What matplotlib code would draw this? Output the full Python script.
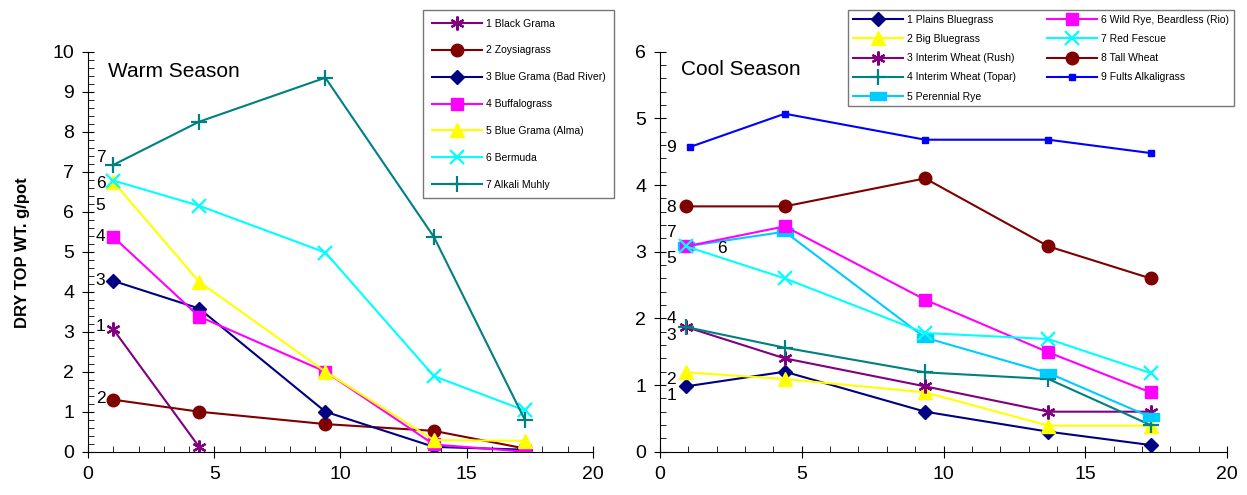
import matplotlib
matplotlib.use('Agg')

import matplotlib.pyplot as plt
from matplotlib.path import Path
from matplotlib.ticker import MultipleLocator

plt.rcParams['font.family'] = ['Liberation Sans', 'DejaVu Sans']

# warm season data
x_warm = [1, 4.4, 9.4, 13.7, 17.3]
black_grama = [3.06, 0.12]
zoysiagrass = [1.3, 1.0, 0.69, 0.52, 0.08]
blue_grama_bad_river = [4.27, 3.58, 1.0, 0.12, 0.05]
buffalograss = [5.37, 3.38, 2.0, 0.18, 0.0]
blue_grama_alma = [6.75, 4.25, 2.0, 0.29, 0.27]
bermuda = [6.78, 6.15, 4.98, 1.89, 1.03]
alkali_muhly = [7.17, 8.25, 9.35, 5.37, 0.8]

# cool season data
x_cool = [0.92, 4.4, 9.35, 13.7, 17.3]
x_fults = [1.05, 4.4, 9.35, 13.7, 17.3]
plains_bluegrass = [0.98, 1.2, 0.6, 0.3, 0.1]
big_bluegrass = [1.19, 1.09, 0.89, 0.39, 0.39]
interim_rush = [1.87, 1.4, 0.98, 0.6, 0.6]
interim_topar = [1.87, 1.56, 1.19, 1.09, 0.4]
perennial_rye = [3.08, 3.3, 1.71, 1.18, 0.52]
wild_rye = [3.08, 3.38, 2.28, 1.49, 0.89]
red_fescue = [3.08, 2.6, 1.78, 1.69, 1.18]
tall_wheat = [3.68, 3.68, 4.1, 3.08, 2.6]
fults = [4.57, 5.07, 4.68, 4.68, 4.48]

warm_labels = ['7', '6', '5', '4', '3', '1', '2']
warm_label_y = [7.35, 6.7, 6.16, 5.39, 4.29, 3.14, 1.32]
cool_labels = ['9', '8', '7', '5', '4', '3', '2', '1']
cool_label_y = [4.57, 3.67, 3.29, 2.9, 2.0, 1.74, 1.08, 0.84]

PURPLE = '#800080'
DARKRED = '#800000'
NAVY = '#000080'
MAGENTA = '#FF00FF'
YELLOW = '#FFFF00'
CYAN = '#00FFFF'
TEAL = '#008080'
SKY = '#00CCFF'
BLUE = '#0000FF'

ast = (6, 2, 0)
rect = Path([(-1, -0.5), (1, -0.5), (1, 0.5), (-1, 0.5), (-1, -0.5)],
            [Path.MOVETO, Path.LINETO, Path.LINETO, Path.LINETO, Path.CLOSEPOLY])

fig = plt.figure(figsize=(12.47, 4.95), dpi=100)
ax1 = fig.add_axes([0.0706, 0.0875, 0.4049, 0.808])
ax2 = fig.add_axes([0.5293, 0.0875, 0.4547, 0.808])

lw = 1.5
ax1.plot(x_warm[:2], black_grama, color=PURPLE, marker=ast, ms=10, mew=1.6, lw=lw, label='1 Black Grama')
ax1.plot(x_warm, zoysiagrass, color=DARKRED, marker='o', ms=9, lw=lw, label='2 Zoysiagrass')
ax1.plot(x_warm, blue_grama_bad_river, color=NAVY, marker='D', ms=7, lw=lw, label='3 Blue Grama (Bad River)')
ax1.plot(x_warm, buffalograss, color=MAGENTA, marker='s', ms=9, lw=lw, label='4 Buffalograss')
ax1.plot(x_warm, blue_grama_alma, color=YELLOW, marker='^', ms=10, lw=lw, label='5 Blue Grama (Alma)')
ax1.plot(x_warm, bermuda, color=CYAN, marker='x', ms=10, mew=1.6, lw=lw, label='6 Bermuda')
ax1.plot(x_warm, alkali_muhly, color=TEAL, marker='+', ms=11, mew=1.6, lw=lw, label='7 Alkali Muhly')

ax2.plot(x_cool, plains_bluegrass, color=NAVY, marker='D', ms=7, lw=lw, label='1 Plains Bluegrass')
ax2.plot(x_cool, big_bluegrass, color=YELLOW, marker='^', ms=10, lw=lw, label='2 Big Bluegrass')
ax2.plot(x_cool, interim_rush, color=PURPLE, marker=ast, ms=10, mew=1.6, lw=lw, label='3 Interim Wheat (Rush)')
ax2.plot(x_cool, interim_topar, color=TEAL, marker='+', ms=11, mew=1.6, lw=lw, label='4 Interim Wheat (Topar)')
ax2.plot(x_cool, perennial_rye, color=SKY, marker=rect, ms=11, lw=lw, label='5 Perennial Rye')
ax2.plot(x_cool, wild_rye, color=MAGENTA, marker='s', ms=9, lw=lw, label='6 Wild Rye, Beardless (Rio)')
ax2.plot(x_cool, red_fescue, color=CYAN, marker='x', ms=10, mew=1.6, lw=lw, label='7 Red Fescue')
ax2.plot(x_cool, tall_wheat, color=DARKRED, marker='o', ms=9, lw=lw, label='8 Tall Wheat')
ax2.plot(x_fults, fults, color=BLUE, marker='s', ms=5, lw=lw, label='9 Fults Alkaligrass')

for lab, yv in zip(warm_labels, warm_label_y):
    ax1.text(0.5, yv, lab, fontsize=12.5, ha='center', va='center')
for lab, yv in zip(cool_labels, cool_label_y):
    ax2.text(0.4, yv, lab, fontsize=12.5, ha='center', va='center')
ax2.text(2.2, 3.05, '6', fontsize=12.5, ha='center', va='center')

ax1.text(0.8, 9.5, 'Warm Season', fontsize=15, va='center')
ax2.text(0.75, 5.73, 'Cool Season', fontsize=15, va='center')

for ax, ymax in [(ax1, 10), (ax2, 6)]:
    ax.set_xlim(0, 20)
    ax.set_ylim(0, ymax)
    ax.xaxis.set_major_locator(MultipleLocator(5))
    ax.xaxis.set_minor_locator(MultipleLocator(1))
    ax.yaxis.set_major_locator(MultipleLocator(1))
    ax.yaxis.set_minor_locator(MultipleLocator(0.2))
    ax.spines['top'].set_visible(False)
    ax.spines['right'].set_visible(False)
    ax.tick_params(which='major', direction='inout', length=8, labelsize=14, pad=6)
    ax.tick_params(which='minor', direction='in', length=4)
    ax.set_facecolor('none')

fig.text(0.018, 0.49, 'DRY TOP WT. g/pot', rotation=90, fontsize=12, fontweight='bold',
         ha='center', va='center')

leg1 = fig.legend(handles=ax1.get_lines(), loc='upper left', bbox_to_anchor=(418 / 1247, 1 - 5 / 495),
                  fontsize=7.5, frameon=True, fancybox=False, edgecolor='#555555',
                  handlelength=4.8, labelspacing=1.62, borderpad=0.8, handletextpad=0.4)
leg1.get_frame().set_linewidth(1)

leg2 = fig.legend(handles=ax2.get_lines(), loc='upper left', bbox_to_anchor=(843 / 1247, 1 - 5 / 495),
                  ncol=2, fontsize=7.5, frameon=True, fancybox=False, edgecolor='#555555',
                  handlelength=4.8, labelspacing=0.88, borderpad=0.45, handletextpad=0.4,
                  columnspacing=3.0)
leg2.get_frame().set_linewidth(1)

fig.savefig('out.png', dpi=100)
